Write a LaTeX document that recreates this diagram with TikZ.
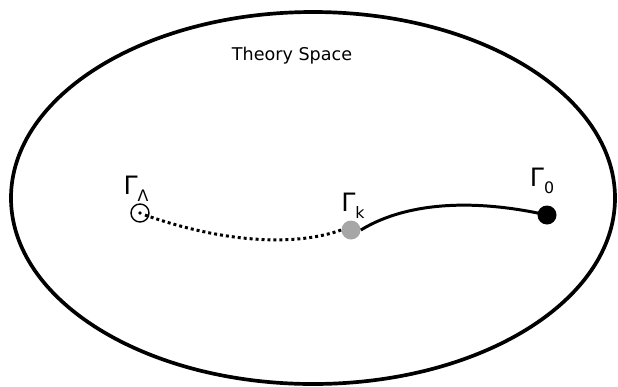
\documentclass[tikz,border=0pt]{standalone}
\usepackage{fontspec}
\setmainfont{DejaVu Sans}
\newcommand{\gsub}[1]{Γ\raisebox{-0.5ex}{\small #1}}
\begin{document}
\begin{tikzpicture}[x=0.02cm,y=-0.02cm,
    flowlabel/.style={font=\Large, inner sep=0pt},
    flowline/.style={line width=1.7pt}]
  \useasboundingbox (0,0) rectangle (618,386);
  % Theory space
  \draw[line width=2.1pt] (313,198) ellipse [x radius=302, y radius=-186];
  \node[font=\normalsize] (title) at (292,56) {Theory Space};
  % Fixed points
  \node[circle, draw, line width=0.8pt, minimum size=0.36cm, inner sep=0pt] (uv) at (140,213) {};
  \fill (uv.center) circle (1.1pt);
  \node[circle, fill=gray!70, minimum size=0.38cm, inner sep=0pt] (gk) at (351,230) {};
  \node[circle, fill=black, minimum size=0.38cm, inner sep=0pt] (ir) at (547,215) {};
  % Labels
  \node[flowlabel] (luv) at (136,189) {\gsub{Λ}};
  \node[flowlabel] (lgk) at (353,206) {\gsub{k}};
  \node[flowlabel] (lir) at (542,181) {\gsub{0}};
  % Flow
  \draw[flowline, dash pattern=on 1.7pt off 1.7pt] (uv.center) ++(5,2) .. controls (230,245) and (300,245) .. (gk.west);
  \draw[flowline] (gk.east) .. controls (410,200) and (480,200) .. (ir.center);
\end{tikzpicture}
\end{document}
